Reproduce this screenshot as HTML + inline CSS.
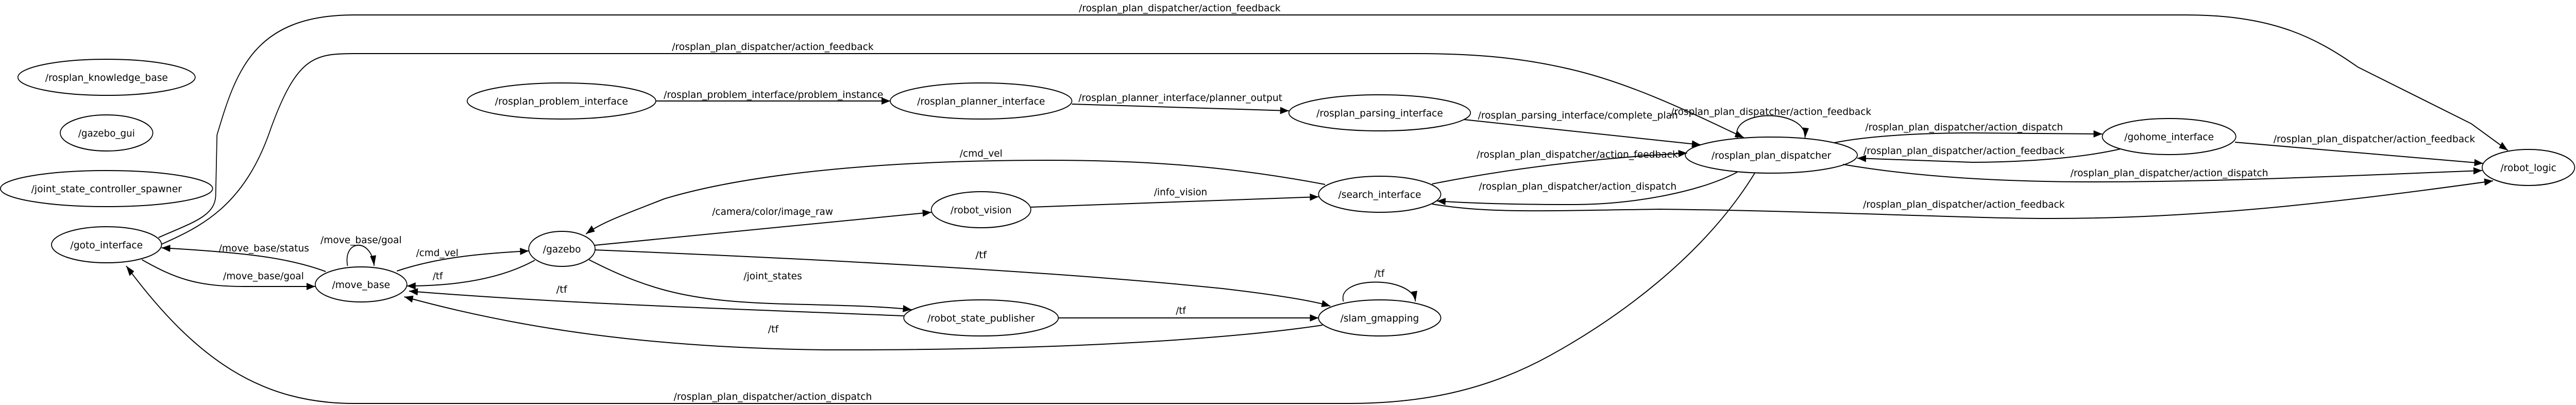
<!DOCTYPE html>
<html><head><meta charset="utf-8"><style>
html,body{margin:0;padding:0;background:#fff;width:100%;height:100%;overflow:hidden;}
svg{display:block;position:absolute;left:0;top:0;width:100vw;height:100vh;}
text{font-family:"DejaVu Sans","Liberation Sans",sans-serif;font-size:19px;fill:#000;}
.n{text-anchor:middle;}
</style></head><body>
<svg viewBox="0 0 5900 786" preserveAspectRatio="none" xmlns="http://www.w3.org/2000/svg">
<defs>
<marker id="a" markerUnits="userSpaceOnUse" markerWidth="24" markerHeight="18" refX="20" refY="7" orient="auto">
<path d="M0,0 L20,7 L0,14 Z" fill="#000"/>
</marker>
</defs>
<g fill="none" stroke="#000" stroke-width="2">
<ellipse cx="244" cy="150" rx="203" ry="35"/>
<ellipse cx="244" cy="258" rx="106" ry="35"/>
<ellipse cx="244" cy="366" rx="243" ry="35"/>
<ellipse cx="244" cy="475" rx="126" ry="35"/>
<ellipse cx="827" cy="552" rx="105" ry="34"/>
<ellipse cx="1287" cy="483" rx="76" ry="34"/>
<ellipse cx="1286" cy="196" rx="216" ry="35"/>
<ellipse cx="2247" cy="196" rx="208" ry="35"/>
<ellipse cx="2247" cy="407" rx="114" ry="35"/>
<ellipse cx="2247" cy="617" rx="177" ry="35"/>
<ellipse cx="3160" cy="219" rx="208" ry="35"/>
<ellipse cx="3160" cy="377" rx="140" ry="35"/>
<ellipse cx="3160" cy="617" rx="140" ry="35"/>
<ellipse cx="4057" cy="301" rx="197" ry="35"/>
<ellipse cx="4968" cy="265" rx="153" ry="35"/>
<ellipse cx="5791" cy="325" rx="106" ry="35"/>
</g>
<g fill="none" stroke="#000" stroke-width="2" marker-end="url(#a)">
<path d="M363,461 C440,432 492,420 494,380 L497,262 C540,140 580,29 811,29 L5006,29 C5200,29 5300,70 5400,130 L5660,240 C5700,265 5725,280 5744,292"/>
<path d="M370,474 C460,440 560,400 620,250 C680,110 720,104 811,104 L3242,104 C3400,104 3500,115 3600,135 C3750,165 3900,230 3994,267"/>
<path d="M4019,336 C3900,500 3700,620 3550,690 C3400,760 3250,783 3089,783 L811,783 C600,783 450,700 289,516"/>
<path d="M746,527 C660,500 560,490 370,481"/>
<path d="M325,504 C400,540 450,556 560,556 L722,556"/>
<path d="M796,516 C785,465 850,460 857,516"/>
<path d="M909,526 C1000,500 1100,492 1211,487"/>
<path d="M1225,505 C1150,540 1050,555 932,555"/>
<path d="M2070,613 C1700,600 1300,590 937,565"/>
<path d="M3029,631 C2800,660 2400,680 1889,679 C1500,675 1200,640 926,576"/>
<path d="M3035,358 C2800,320 2600,311 2400,311 C2000,311 1700,340 1521,386 C1450,410 1380,430 1342,454"/>
<path d="M1362,476 L2133,412"/>
<path d="M1362,485 C1800,500 2400,525 2800,560 C2900,570 3000,582 3047,594"/>
<path d="M1349,504 C1500,570 1600,585 1800,590 C1950,593 2030,595 2088,601"/>
<path d="M2424,617 L3020,617"/>
<path d="M3077,585 C3060,535 3235,535 3242,585"/>
<path d="M1502,196 L2039,196"/>
<path d="M2455,202 L2952,215"/>
<path d="M3353,232 L3895,281"/>
<path d="M2361,402 L3020,382"/>
<path d="M3280,357 C3500,320 3700,305 3864,297"/>
<path d="M3979,334 C3900,370 3750,397 3600,397 C3500,397 3380,395 3291,390"/>
<path d="M3280,396 C3400,413 3500,410 3800,406 C4200,410 4500,424 4700,424 C5000,424 5300,400 5710,351"/>
<path d="M3979,268 C3960,210 4140,210 4134,268"/>
<path d="M4201,277 C4300,260 4450,258 4518,258 L4815,260"/>
<path d="M4857,289 C4750,310 4600,315 4518,315 L4254,307"/>
<path d="M4221,319 C4400,345 4600,353 4800,353 C5100,353 5400,340 5685,331"/>
<path d="M5119,276 L5687,317"/>
</g>
<g>
<text class="n" x="244" y="157" textLength="281" lengthAdjust="spacingAndGlyphs">/rosplan_knowledge_base</text>
<text class="n" x="244" y="265" textLength="130" lengthAdjust="spacingAndGlyphs">/gazebo_gui</text>
<text class="n" x="244" y="373" textLength="345" lengthAdjust="spacingAndGlyphs">/joint_state_controller_spawner</text>
<text class="n" x="244" y="482" textLength="166" lengthAdjust="spacingAndGlyphs">/goto_interface</text>
<text class="n" x="827" y="559" textLength="133" lengthAdjust="spacingAndGlyphs">/move_base</text>
<text class="n" x="1287" y="490" textLength="87" lengthAdjust="spacingAndGlyphs">/gazebo</text>
<text class="n" x="1286" y="203" textLength="305" lengthAdjust="spacingAndGlyphs">/rosplan_problem_interface</text>
<text class="n" x="2247" y="203" textLength="293" lengthAdjust="spacingAndGlyphs">/rosplan_planner_interface</text>
<text class="n" x="2247" y="414" textLength="140" lengthAdjust="spacingAndGlyphs">/robot_vision</text>
<text class="n" x="2247" y="624" textLength="246" lengthAdjust="spacingAndGlyphs">/robot_state_publisher</text>
<text class="n" x="3160" y="226" textLength="290" lengthAdjust="spacingAndGlyphs">/rosplan_parsing_interface</text>
<text class="n" x="3160" y="384" textLength="190" lengthAdjust="spacingAndGlyphs">/search_interface</text>
<text class="n" x="3160" y="624" textLength="180" lengthAdjust="spacingAndGlyphs">/slam_gmapping</text>
<text class="n" x="4057" y="308" textLength="274" lengthAdjust="spacingAndGlyphs">/rosplan_plan_dispatcher</text>
<text class="n" x="4968" y="272" textLength="205" lengthAdjust="spacingAndGlyphs">/gohome_interface</text>
<text class="n" x="5791" y="332" textLength="128" lengthAdjust="spacingAndGlyphs">/robot_logic</text>

<text x="2471" y="22" textLength="462" lengthAdjust="spacingAndGlyphs">/rosplan_plan_dispatcher/action_feedback</text>
<text x="1539" y="97" textLength="462" lengthAdjust="spacingAndGlyphs">/rosplan_plan_dispatcher/action_feedback</text>
<text x="1543" y="776" textLength="454" lengthAdjust="spacingAndGlyphs">/rosplan_plan_dispatcher/action_dispatch</text>
<text x="501" y="488" textLength="207" lengthAdjust="spacingAndGlyphs">/move_base/status</text>
<text x="511" y="542" textLength="185" lengthAdjust="spacingAndGlyphs">/move_base/goal</text>
<text x="734" y="472" textLength="186" lengthAdjust="spacingAndGlyphs">/move_base/goal</text>
<text x="953" y="497" textLength="97" lengthAdjust="spacingAndGlyphs">/cmd_vel</text>
<text x="991" y="542" textLength="23" lengthAdjust="spacingAndGlyphs">/tf</text>
<text x="1520" y="190" textLength="503" lengthAdjust="spacingAndGlyphs">/rosplan_problem_interface/problem_instance</text>
<text x="2198" y="304" textLength="98" lengthAdjust="spacingAndGlyphs">/cmd_vel</text>
<text x="1631" y="417" textLength="277" lengthAdjust="spacingAndGlyphs">/camera/color/image_raw</text>
<text x="2234" y="501" textLength="26" lengthAdjust="spacingAndGlyphs">/tf</text>
<text x="1703" y="542" textLength="134" lengthAdjust="spacingAndGlyphs">/joint_states</text>
<text x="1274" y="568" textLength="25" lengthAdjust="spacingAndGlyphs">/tf</text>
<text x="1759" y="645" textLength="24" lengthAdjust="spacingAndGlyphs">/tf</text>
<text x="2470" y="196" textLength="467" lengthAdjust="spacingAndGlyphs">/rosplan_planner_interface/planner_output</text>
<text x="3385" y="230" textLength="458" lengthAdjust="spacingAndGlyphs">/rosplan_parsing_interface/complete_plan</text>
<text x="2643" y="379" textLength="122" lengthAdjust="spacingAndGlyphs">/info_vision</text>
<text x="3382" y="306" textLength="461" lengthAdjust="spacingAndGlyphs">/rosplan_plan_dispatcher/action_feedback</text>
<text x="3387" y="368" textLength="453" lengthAdjust="spacingAndGlyphs">/rosplan_plan_dispatcher/action_dispatch</text>
<text x="4267" y="403" textLength="462" lengthAdjust="spacingAndGlyphs">/rosplan_plan_dispatcher/action_feedback</text>
<text x="3148" y="537" textLength="23" lengthAdjust="spacingAndGlyphs">/tf</text>
<text x="2693" y="609" textLength="23" lengthAdjust="spacingAndGlyphs">/tf</text>
<text x="3827" y="223" textLength="459" lengthAdjust="spacingAndGlyphs">/rosplan_plan_dispatcher/action_feedback</text>
<text x="4272" y="253" textLength="453" lengthAdjust="spacingAndGlyphs">/rosplan_plan_dispatcher/action_dispatch</text>
<text x="4268" y="299" textLength="461" lengthAdjust="spacingAndGlyphs">/rosplan_plan_dispatcher/action_feedback</text>
<text x="4742" y="342" textLength="453" lengthAdjust="spacingAndGlyphs">/rosplan_plan_dispatcher/action_dispatch</text>
<text x="5207" y="276" textLength="462" lengthAdjust="spacingAndGlyphs">/rosplan_plan_dispatcher/action_feedback</text>
</g>
</svg>
</body></html>
